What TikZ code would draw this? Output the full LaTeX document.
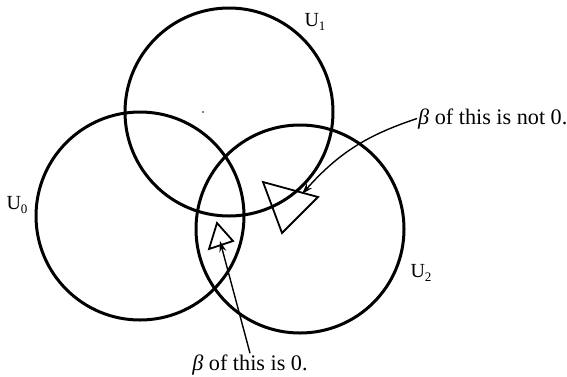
\documentclass[tikz,border=0pt]{standalone}
\usepackage{fontspec}
\setmainfont{Liberation Serif}
\usetikzlibrary{arrows.meta,calc,positioning}
\newcommand{\Uname}[1]{U\raisebox{-0.35ex}{\fontsize{13}{13}\selectfont #1}}

\begin{document}
\begin{tikzpicture}[x=1pt,y=-1pt,>={Stealth[length=11pt,width=7pt]},
  patch/.style={draw,circle,line width=3pt,minimum size=208pt,inner sep=0pt},
  remark/.style={font=\fontsize{22.2}{25}\selectfont,inner sep=1pt},
  setname/.style={font=\fontsize{20}{22}\selectfont,inner sep=0pt}]
  \useasboundingbox (0,0) rectangle (567,376);
  \node[patch] (U1) at (229,112) {};
  \node[patch] (U0) at (140,216) {};
  \node[patch] (U2) at (300,229) {};
  \node[setname] (n1) at (315,22) {\Uname{1}};
  \node[setname] (n0) at (17,205) {\Uname{0}};
  \node[setname] (n2) at (421,273) {\Uname{2}};
  \fill (203,112) circle (0.9pt);
  \draw[line width=1.8pt] (263,182) -- (318,197) -- (282,233) -- cycle;
  \draw[line width=1.8pt] (217,223) -- (233,241) -- (209,249) -- cycle;
  \coordinate (tipA) at (302,194);
  \coordinate (tipB) at (220,241);
  \node[remark,anchor=base west] (notzero) at (417,124) {\textit{β} of this is not 0.};
  \node[remark,anchor=base] (iszero) at (250,370) {\textit{β} of this is 0.};
  \draw[->,line width=1.4pt] (notzero.west) to[bend right=15] (tipA);
  \draw[->,line width=1.4pt] (iszero.north) -- (tipB);
\end{tikzpicture}
\end{document}
